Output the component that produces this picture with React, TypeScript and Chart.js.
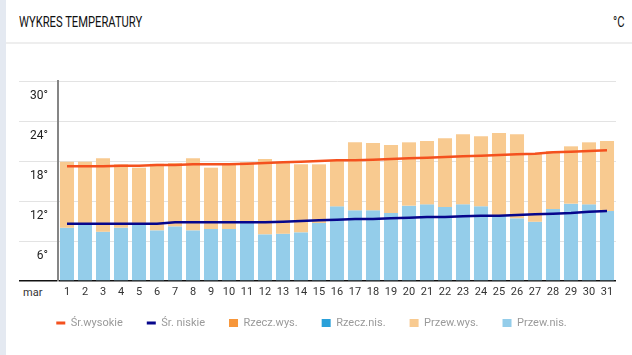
import React, { useEffect, useRef } from 'react';
import { Chart, registerables } from 'chart.js';

Chart.register(...registerables);

const dayLabels = ['1','2','3','4','5','6','7','8','9','10','11','12','13','14','15','16','17','18','19','20','21','22','23','24','25','26','27','28','29','30','31'];

const avgHigh = [17.2,17.2,17.2,17.3,17.3,17.4,17.4,17.5,17.5,17.5,17.6,17.7,17.8,17.9,18.0,18.1,18.1,18.2,18.3,18.4,18.5,18.6,18.7,18.8,18.9,19.0,19.1,19.3,19.4,19.5,19.6];
const avgLow = [8.6,8.6,8.6,8.6,8.6,8.6,8.8,8.8,8.8,8.8,8.8,8.8,8.9,9.0,9.1,9.2,9.3,9.3,9.4,9.5,9.6,9.6,9.7,9.8,9.8,9.9,10.0,10.1,10.2,10.4,10.5];

const actualHigh: (number | null)[] = [];
const actualLow: (number | null)[] = [];

const forecastHigh = [17.9,17.9,18.4,17.5,17.0,17.6,17.7,18.4,17.0,17.4,17.8,18.3,17.9,17.5,17.5,18.1,20.8,20.7,20.4,20.8,21.0,21.4,22.0,21.7,22.2,22.0,19.1,19.5,20.2,20.8,21.0];
const forecastLow = [8.0,8.5,7.4,8.0,8.5,7.6,8.2,7.6,7.8,7.8,8.7,7.0,7.1,7.3,8.7,11.2,10.6,10.6,10.2,11.3,11.5,11.1,11.5,11.2,9.9,9.4,8.9,10.8,11.6,11.5,10.5];

const yTicks = [0, 6, 12, 18, 24, 30];

const legendShift = {
  id: 'legendShift',
  afterLayout(chart: any) {
    const lg = chart.legend;
    if (lg) {
      lg.left -= 6;
      lg.right -= 6;
      lg.top -= 4.5;
      lg.bottom -= 4.5;
    }
  },
};

export default function App() {
  const ref = useRef<HTMLCanvasElement>(null);

  useEffect(() => {
    Chart.defaults.font.family = 'Roboto';
    const chart = new Chart(ref.current as HTMLCanvasElement, {
      data: {
        labels: dayLabels,
        datasets: [
          {
            type: 'line',
            label: 'Śr.wysokie',
            data: avgHigh,
            borderColor: '#f4511e',
            backgroundColor: '#f4511e',
            borderWidth: 2.5,
            pointRadius: 0,
            pointBorderWidth: 3,
            pointStyle: 'line',
            tension: 0,
          },
          {
            type: 'line',
            label: 'Śr. niskie',
            data: avgLow,
            borderColor: '#06068c',
            backgroundColor: '#06068c',
            borderWidth: 2.5,
            pointRadius: 0,
            pointBorderWidth: 3,
            pointStyle: 'line',
            tension: 0,
          },
          {
            type: 'bar',
            label: 'Rzecz.wys.',
            data: actualHigh,
            backgroundColor: '#f7963a',
            pointStyle: 'rect',
            grouped: false,
          },
          {
            type: 'bar',
            label: 'Rzecz.nis.',
            data: actualLow,
            backgroundColor: '#2aa0d9',
            pointStyle: 'rect',
            grouped: false,
          },
          {
            type: 'bar',
            label: 'Przew.wys.',
            data: forecastHigh.map((h, i) => [forecastLow[i], h]),
            backgroundColor: '#f8ca90',
            pointStyle: 'rect',
            grouped: false,
          },
          {
            type: 'bar',
            label: 'Przew.nis.',
            data: forecastLow,
            backgroundColor: '#94cdea',
            pointStyle: 'rect',
            grouped: false,
          },
        ] as any,
      },
      options: {
        animation: false,
        responsive: false,
        devicePixelRatio: 1,
        layout: { padding: { top: 81, left: 19, right: 16, bottom: 12 } },
        datasets: {
          bar: { categoryPercentage: 1, barPercentage: 0.78 },
        } as any,
        scales: {
          x: {
            grid: { display: false, drawTicks: false },
            border: { display: false },
            ticks: {
              autoSkip: false,
              maxRotation: 0,
              minRotation: 0,
              padding: 9.5,
              color: '#333',
              font: { size: 11, lineHeight: '3px' },
            },
            afterFit: (s: any) => { s.height = 17; },
          },
          y: {
            min: 0,
            max: 30,
            afterBuildTicks: (s: any) => { s.ticks = yTicks.map((v) => ({ value: v })); },
            grid: {
              color: (c: any) => (c.tick && c.tick.value === 0 ? '#111' : '#e3e3e3'),
              lineWidth: (c: any) => (c.tick && c.tick.value === 0 ? 1.5 : 1),
              tickLength: 39,
            },
            border: { display: true, color: '#858585', width: 2 },
            ticks: {
              padding: -29,
              labelOffset: 15,
              color: '#222',
              font: { size: 12 },
              callback: (v: any) => (v === 0 ? '' : v + '°'),
            },
            afterFit: (s: any) => { s.width = 39; },
          },
        },
        plugins: {
          legend: {
            position: 'bottom',
            labels: {
              usePointStyle: true,
              pointStyleWidth: 9,
              boxHeight: 8,
              padding: 24,
              color: '#9a9a9a',
              font: { size: 11 },
            },
          },
          tooltip: { enabled: false },
        },
      } as any,
      plugins: [legendShift],
    });
    return () => chart.destroy();
  }, []);

  return (
    <div style={{ position: 'fixed', left: 0, top: 0, width: 632, height: 355, background: '#fff', overflow: 'hidden', fontFamily: 'Roboto' }}>
      <div style={{ position: 'absolute', left: 0, top: 0, width: 6, height: 355, background: '#e4e9f1' }} />
      <div style={{ position: 'absolute', left: 19, top: 15, fontSize: 14, lineHeight: '14px', color: '#111', whiteSpace: 'nowrap', transform: 'scaleX(0.8)', transformOrigin: 'left top' }}>WYKRES TEMPERATURY</div>
      <div style={{ position: 'absolute', left: 613, top: 15, fontSize: 14, lineHeight: '14px', color: '#111', whiteSpace: 'nowrap', transform: 'scaleX(0.8)', transformOrigin: 'left top' }}>°C</div>
      <div style={{ position: 'absolute', left: 6, top: 42, width: 626, height: 2, background: '#eeeeee' }} />
      <div style={{ position: 'absolute', left: 23, top: 286, fontSize: 11, lineHeight: '13px', color: '#333' }}>mar</div>
      <canvas ref={ref} width={632} height={355} style={{ position: 'absolute', left: 0, top: 0, width: 632, height: 355 }} />
    </div>
  );
}
